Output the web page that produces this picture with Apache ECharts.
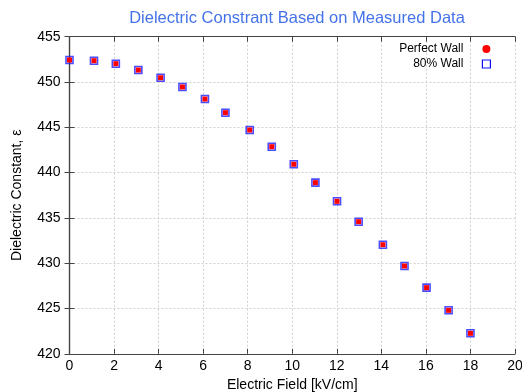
<!DOCTYPE html>
<html>
<head>
<meta charset="utf-8">
<script src="https://cdn.jsdelivr.net/npm/echarts@6/dist/echarts.min.js"></script>
<style>
  html, body { margin: 0; padding: 0; background: #fff; }
  #chart { width: 522px; height: 392px; }
</style>
</head>
<body>
<div id="chart"></div>
<script>
// field values (kV/cm)
const fieldKv = [0, 1.1, 2.08, 3.09, 4.09, 5.07, 6.08, 7.0, 8.09, 9.08, 10.07, 11.04, 12.01, 12.98, 14.07, 15.04, 16.03, 17.02, 18.0];
const perfectWall = [452.43, 452.35, 452.02, 451.32, 450.47, 449.45, 448.12, 446.61, 444.7, 442.86, 440.92, 438.89, 436.83, 434.58, 432.04, 429.69, 427.3, 424.8, 422.26];
const wall80 = [452.43, 452.35, 452.02, 451.32, 450.47, 449.45, 448.12, 446.61, 444.7, 442.86, 440.92, 438.89, 436.83, 434.58, 432.04, 429.69, 427.3, 424.8, 422.26];
const seriesNames = ["Perfect Wall", "80% Wall"];

const font = "Liberation Sans, Arial, sans-serif";
const chart = echarts.init(document.getElementById("chart"));

const frameLine = { show: true, lineStyle: { color: "#444", width: 1.2 } };
const gridDots = { show: true, lineStyle: { color: "#d0d0d0", type: [2, 2], width: 1 } };

const option = {
  backgroundColor: "#fff",
  animation: false,
  title: {
    text: "Dielectric Constrant Based on Measured Data",
    left: 292,
    top: 5,
    textAlign: "center",
    textStyle: { color: "#4472e8", fontSize: 16.5, fontWeight: "normal", fontFamily: font }
  },
  legend: {
    orient: "vertical",
    right: 26,
    top: 38,
    align: "right",
    itemGap: 3,
    itemWidth: 8,
    itemHeight: 8,
    textStyle: { fontSize: 12, color: "#000", fontFamily: font, padding: [0, 14, 0, 0] },
    data: [
      { name: seriesNames[0], icon: "circle", itemStyle: { color: "#ff0000" } },
      { name: seriesNames[1], icon: "rect", itemStyle: { color: "#fff", borderColor: "#1010ff", borderWidth: 1.2 } }
    ]
  },
  grid: { left: 69.5, right: 7, top: 36.7, bottom: 38.2, outerBoundsMode: "none" },
  xAxis: [
    {
      type: "value", min: 0, max: 20, interval: 2,
      name: "Electric Field [kV/cm]", nameLocation: "middle", nameGap: 21,
      nameTextStyle: { fontSize: 14, color: "#000", fontFamily: font },
      axisLine: frameLine,
      axisTick: { show: true, inside: true, length: 5, lineStyle: { color: "#444" } },
      axisLabel: { fontSize: 14, color: "#000", fontFamily: font, margin: 5 },
      splitLine: gridDots
    },
    {
      type: "value", position: "top", min: 0, max: 20, interval: 2,
      axisLine: frameLine,
      axisTick: { show: true, inside: true, length: 5, lineStyle: { color: "#444" } },
      axisLabel: { show: false }, splitLine: { show: false }
    }
  ],
  yAxis: [
    {
      type: "value", min: 420, max: 455, interval: 5,
      name: "Dielectric Constant, \u03b5", nameLocation: "middle", nameGap: 45,
      nameTextStyle: { fontSize: 14, color: "#000", fontFamily: font },
      axisLine: frameLine,
      axisTick: { show: true, inside: true, length: 5, lineStyle: { color: "#444" } },
      axisLabel: { fontSize: 14, color: "#000", fontFamily: font, margin: 9 },
      splitLine: gridDots
    },
    {
      type: "value", position: "right", min: 420, max: 455, interval: 5,
      axisLine: frameLine,
      axisTick: { show: true, inside: true, length: 5, lineStyle: { color: "#444" } },
      axisLabel: { show: false }, splitLine: { show: false }
    }
  ],
  series: [
    {
      name: seriesNames[1],
      type: "scatter",
      symbol: "rect",
      symbolSize: 7,
      itemStyle: { color: "rgba(255,255,255,0)", borderColor: "rgba(30,30,255,0.8)", borderWidth: 1.6, opacity: 1 },
      data: fieldKv.map((x, i) => [x, wall80[i]]),
      z: 2
    },
    {
      name: seriesNames[0],
      type: "scatter",
      symbol: "rect",
      symbolSize: 5,
      itemStyle: { color: "#ff0000", opacity: 1 },
      data: fieldKv.map((x, i) => [x, perfectWall[i]]),
      z: 3
    }
  ]
};

chart.setOption(option);
</script>
</body>
</html>
